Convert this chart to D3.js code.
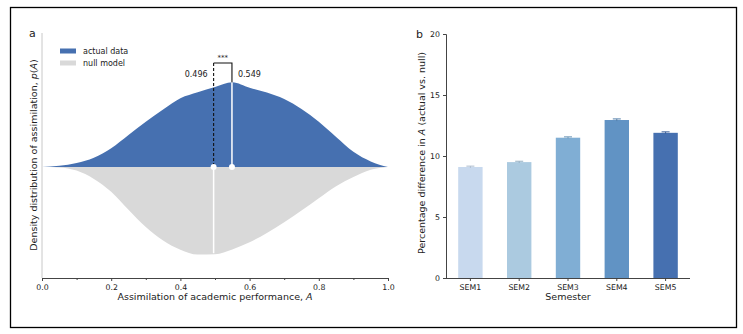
<!DOCTYPE html>
<html>
<head>
<meta charset="utf-8">
<script src="https://cdn.jsdelivr.net/npm/d3@7"></script>
<style>
  body { margin: 0; background: #fff; }
  svg text { font-family: "DejaVu Sans", sans-serif; fill: #222; }
</style>
</head>
<body>
<div id="chart"></div>
<script>
// panel a: density of assimilation (grid of A)
var gridA      = [0, 0.05, 0.1, 0.15, 0.2, 0.25, 0.3, 0.35, 0.4, 0.45, 0.5, 0.55, 0.6, 0.65, 0.7, 0.75, 0.8, 0.85, 0.9, 0.95, 1.0];
var actualDens = [0, 0.03, 0.10, 0.23, 0.47, 0.80, 1.13, 1.44, 1.72, 1.87, 2.00, 2.12, 1.98, 1.86, 1.70, 1.45, 1.13, 0.75, 0.38, 0.14, 0];
var nullDens   = [0, 0.01, 0.09, 0.30, 0.62, 1.07, 1.50, 1.84, 2.07, 2.19, 2.18, 2.06, 1.88, 1.65, 1.38, 1.09, 0.78, 0.48, 0.25, 0.07, 0];
var meanNull   = 0.496;
var meanActual = 0.549;
var xTicksA    = [0, 0.2, 0.4, 0.6, 0.8, 1.0];

// panel b: percentage difference per semester
var semesters  = ['SEM1', 'SEM2', 'SEM3', 'SEM4', 'SEM5'];
var pctDiff    = [9.1, 9.5, 11.5, 12.95, 11.9];
var pctErr     = [0.07, 0.07, 0.07, 0.09, 0.08];
var yTicksB    = [0, 5, 10, 15, 20];
var semColors  = ['#c8d9ee', '#abcae0', '#80aed4', '#6193c4', '#4670b0'];

var blue = '#4670b0', grey = '#d9d9d9';
var tickFont = 7.8, labelFont = 9.5;

var svg = d3.select('#chart').append('svg')
    .attr('width', 743)
    .attr('height', 334);

svg.append('rect')
    .attr('x', 10.5).attr('y', 7.5)
    .attr('width', 726).attr('height', 320)
    .attr('fill', 'none')
    .attr('stroke', '#000')
    .attr('stroke-width', 1.3);

// ---------- panel a ----------
var x = d3.scaleLinear().domain([0, 1]).range([42, 388]);
var y = d3.scaleLinear().domain([-2.775, 3.35]).range([278, 33]);

var ga = svg.append('g');

var actualArea = d3.area()
    .x((d, i) => x(gridA[i]))
    .y0(y(0))
    .y1(d => y(d))
    .curve(d3.curveMonotoneX);
var nullArea = d3.area()
    .x((d, i) => x(gridA[i]))
    .y0(y(0))
    .y1(d => y(-d))
    .curve(d3.curveMonotoneX);

ga.append('path').attr('d', nullArea(nullDens)).attr('fill', grey);
ga.append('path').attr('d', actualArea(actualDens)).attr('fill', blue);

// heights of the curves at the means
var valAt = (arr, a) => {
    var i = d3.bisectRight(gridA, a) - 1;
    var t = (a - gridA[i]) / (gridA[i + 1] - gridA[i]);
    return arr[i] + t * (arr[i + 1] - arr[i]);
};
var bracketY = 63;

// white line down into null model at its mean
ga.append('line')
    .attr('x1', x(meanNull)).attr('x2', x(meanNull))
    .attr('y1', y(0)).attr('y2', y(-valAt(nullDens, meanNull)) - 1)
    .attr('stroke', '#fff').attr('stroke-width', 1.5);
// white line up into actual data at its mean
ga.append('line')
    .attr('x1', x(meanActual)).attr('x2', x(meanActual))
    .attr('y1', y(0)).attr('y2', y(valAt(actualDens, meanActual)))
    .attr('stroke', '#fff').attr('stroke-width', 1.5);
// bracket
ga.append('line')
    .attr('x1', x(meanNull)).attr('x2', x(meanNull))
    .attr('y1', bracketY).attr('y2', y(0))
    .attr('stroke', '#111').attr('stroke-width', 1.1)
    .attr('stroke-dasharray', '3,2');
ga.append('path')
    .attr('d', 'M' + x(meanNull) + ',' + bracketY + 'H' + x(meanActual) + 'V' + y(valAt(actualDens, meanActual)))
    .attr('fill', 'none').attr('stroke', '#111').attr('stroke-width', 1.1);
ga.append('text')
    .attr('x', (x(meanNull) + x(meanActual)) / 2).attr('y', bracketY - 3)
    .attr('text-anchor', 'middle').attr('font-size', 7)
    .text('***');
ga.append('text')
    .attr('x', x(meanNull) - 6).attr('y', 77)
    .attr('text-anchor', 'end').attr('font-size', 8)
    .text(meanNull.toFixed(3));
ga.append('text')
    .attr('x', x(meanActual) + 6).attr('y', 77)
    .attr('font-size', 8)
    .text(meanActual.toFixed(3));

[meanNull, meanActual].forEach(m => {
    ga.append('circle')
        .attr('cx', x(m)).attr('cy', y(0)).attr('r', 3)
        .attr('fill', '#fff');
});

// axes
ga.append('line')
    .attr('x1', 42).attr('x2', 42).attr('y1', 33).attr('y2', 278)
    .attr('stroke', '#c8c8c8').attr('stroke-width', 1);

var xAxisA = ga.append('g')
    .attr('transform', 'translate(0,278)')
    .call(d3.axisBottom(x).tickValues(xTicksA).tickFormat(d3.format('.1f')).tickSize(3).tickPadding(3));
ga.append('g')
    .attr('transform', 'translate(0,278)')
    .call(d3.axisBottom(x).tickValues([0.1, 0.3, 0.5, 0.7, 0.9]).tickFormat('').tickSize(2))
    .select('.domain').remove();
ga.selectAll('.domain').attr('stroke', '#444');
ga.selectAll('.tick line').attr('stroke', '#444');
xAxisA.selectAll('text').attr('font-size', tickFont).attr('font-family', '"DejaVu Sans", sans-serif').attr('fill', '#222');

ga.append('text')
    .attr('x', x(0.5)).attr('y', 300)
    .attr('text-anchor', 'middle').attr('font-size', labelFont)
    .html('Assimilation of academic performance, <tspan font-style="italic">A</tspan>');
ga.append('text')
    .attr('transform', 'translate(37,155) rotate(-90)')
    .attr('text-anchor', 'middle').attr('font-size', labelFont)
    .html('Density distribution of assimilation, <tspan font-style="italic">p</tspan>(<tspan font-style="italic">A</tspan>)');
ga.append('text')
    .attr('x', 29).attr('y', 37).attr('font-size', 11)
    .text('a');

// legend
var legend = [['actual data', blue], ['null model', grey]];
legend.forEach((l, i) => {
    ga.append('rect')
        .attr('x', 60).attr('y', 48.5 + i * 12)
        .attr('width', 16).attr('height', 5)
        .attr('fill', l[1]);
    ga.append('text')
        .attr('x', 83).attr('y', 54 + i * 12)
        .attr('font-size', 8)
        .text(l[0]);
});

// ---------- panel b ----------
var xb = d3.scaleBand().domain(semesters).range([446, 690]).paddingInner(0.5).paddingOuter(0.25);
var yb = d3.scaleLinear().domain([0, 20]).range([278, 34]);

var gb = svg.append('g');

gb.selectAll('.bar')
    .data(semesters)
    .enter().append('rect')
    .attr('class', 'bar')
    .attr('x', d => xb(d))
    .attr('y', (d, i) => yb(pctDiff[i]))
    .attr('width', xb.bandwidth())
    .attr('height', (d, i) => yb(0) - yb(pctDiff[i]))
    .attr('fill', (d, i) => semColors[i]);

semesters.forEach((s, i) => {
    var cx = xb(s) + xb.bandwidth() / 2;
    var c = d3.color(semColors[i]).darker(0.4);
    gb.append('line')
        .attr('x1', cx).attr('x2', cx)
        .attr('y1', yb(pctDiff[i] - pctErr[i])).attr('y2', yb(pctDiff[i] + pctErr[i]))
        .attr('stroke', c).attr('stroke-width', 1);
    gb.append('line')
        .attr('x1', cx - 4).attr('x2', cx + 4)
        .attr('y1', yb(pctDiff[i] + pctErr[i])).attr('y2', yb(pctDiff[i] + pctErr[i]))
        .attr('stroke', c).attr('stroke-width', 1);
});

var yAxisB = gb.append('g')
    .attr('transform', 'translate(446,0)')
    .call(d3.axisLeft(yb).tickValues(yTicksB).tickSize(3).tickPadding(3));
var xAxisB = gb.append('g')
    .attr('transform', 'translate(0,278)')
    .call(d3.axisBottom(xb).tickSize(3).tickPadding(3));
[yAxisB, xAxisB].forEach(ax => {
    ax.select('.domain').attr('stroke', '#444');
    ax.selectAll('.tick line').attr('stroke', '#444');
    ax.selectAll('text').attr('font-size', tickFont).attr('font-family', '"DejaVu Sans", sans-serif').attr('fill', '#222');
});
xAxisB.select('.domain').attr('d', 'M446,0.5H690');

gb.append('text')
    .attr('x', 568).attr('y', 300)
    .attr('text-anchor', 'middle').attr('font-size', labelFont)
    .text('Semester');
gb.append('text')
    .attr('transform', 'translate(425,153) rotate(-90)')
    .attr('text-anchor', 'middle').attr('font-size', labelFont)
    .html('Percentage difference in <tspan font-style="italic">A</tspan> (actual vs. null)');
gb.append('text')
    .attr('x', 416).attr('y', 38).attr('font-size', 11)
    .text('b');
</script>
</body>
</html>
